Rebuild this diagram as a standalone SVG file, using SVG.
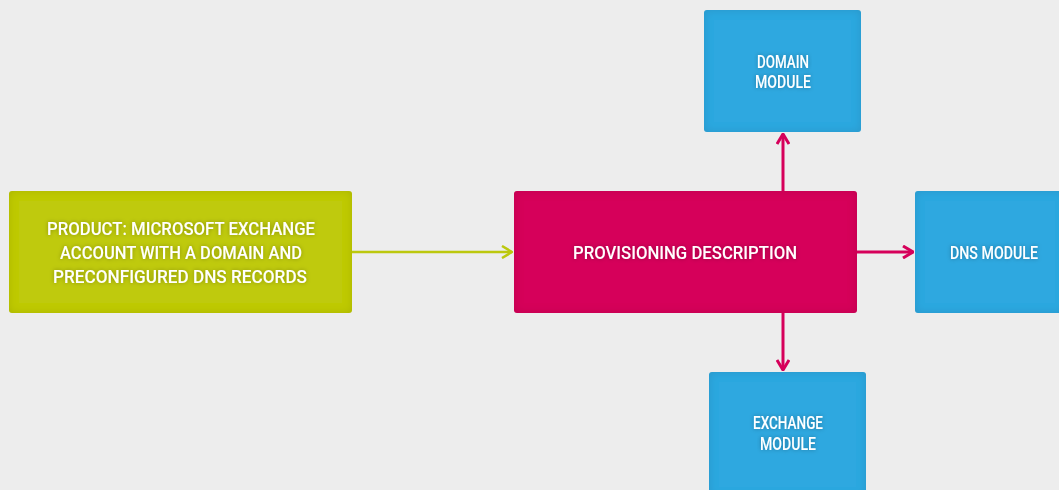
<svg xmlns="http://www.w3.org/2000/svg" width="1059" height="490" viewBox="0 0 1059 490">
<style>
.t{font-family:Roboto,"Liberation Sans",sans-serif;font-size:18px;font-weight:500;fill:#fff;text-anchor:middle;filter:url(#glow)}
.c-pink{stroke:#d6005a;stroke-width:3;fill:none}
.c-green{stroke:#bcc80e;stroke-width:2.5;fill:none}
</style>
<defs>
<filter id="glow" x="-5%" y="-20%" width="110%" height="140%">
<feGaussianBlur in="SourceAlpha" stdDeviation="2" result="b"/>
<feFlood flood-color="#000" flood-opacity="0.3"/>
<feComposite in2="b" operator="in" result="s"/>
<feMerge><feMergeNode in="s"/><feMergeNode in="SourceGraphic"/></feMerge>
</filter>
<filter id="inset" x="-10%" y="-10%" width="120%" height="120%">
<feFlood flood-color="#000" flood-opacity="0.22"/>
<feComposite in2="SourceAlpha" operator="out" result="o"/>
<feGaussianBlur in="o" stdDeviation="5" result="ob"/>
<feComposite in="ob" in2="SourceAlpha" operator="in" result="sh"/>
<feMerge><feMergeNode in="SourceGraphic"/><feMergeNode in="sh"/></feMerge>
</filter>
<marker id="ap" viewBox="0 0 12 14" refX="11" refY="7" markerWidth="12" markerHeight="14" markerUnits="userSpaceOnUse" orient="auto">
<path d="M1,1 L11,7 L1,13" fill="none" stroke="#d6005a" stroke-width="3"/>
</marker>
<marker id="ag" viewBox="0 0 12 14" refX="11" refY="7" markerWidth="12" markerHeight="14" markerUnits="userSpaceOnUse" orient="auto">
<path d="M1,1 L11,7 L1,13" fill="none" stroke="#bcc80e" stroke-width="2.5"/>
</marker>
</defs>
<rect width="1059" height="490" fill="#ededed"/>
<g id="connectors">
<line class="c-green" x1="352" y1="252" x2="512" y2="252" marker-end="url(#ag)"/>
<line class="c-pink" x1="783" y1="191" x2="783" y2="134" marker-end="url(#ap)"/>
<line class="c-pink" x1="857" y1="252" x2="913" y2="252" marker-end="url(#ap)"/>
<line class="c-pink" x1="783" y1="313" x2="783" y2="370" marker-end="url(#ap)"/>
</g>
<g id="product">
<rect x="9" y="191" width="343" height="122" rx="3" fill="#bfca0a" filter="url(#inset)"/>
<text class="t" x="181" y="235" textLength="268" lengthAdjust="spacingAndGlyphs">PRODUCT: MICROSOFT EXCHANGE</text>
<text class="t" x="181" y="259" textLength="242" lengthAdjust="spacingAndGlyphs">ACCOUNT WITH A DOMAIN AND</text>
<text class="t" x="180" y="283" textLength="254" lengthAdjust="spacingAndGlyphs">PRECONFIGURED DNS RECORDS</text>
</g>
<g id="provisioning">
<rect x="514" y="191" width="343" height="122" rx="3" fill="#d6005a" filter="url(#inset)"/>
<text class="t" x="685" y="259" textLength="224" lengthAdjust="spacingAndGlyphs">PROVISIONING DESCRIPTION</text>
</g>
<g id="domain">
<rect x="704" y="10" width="157" height="122" rx="3" fill="#2ea8e0" filter="url(#inset)"/>
<text class="t" x="783" y="68" textLength="52" lengthAdjust="spacingAndGlyphs">DOMAIN</text>
<text class="t" x="783" y="88" textLength="56" lengthAdjust="spacingAndGlyphs">MODULE</text>
</g>
<g id="dns">
<rect x="915" y="191" width="150" height="122" rx="3" fill="#2ea8e0" filter="url(#inset)"/>
<text class="t" x="994" y="259" textLength="88" lengthAdjust="spacingAndGlyphs">DNS MODULE</text>
</g>
<g id="exchange">
<rect x="709" y="372" width="157" height="125" rx="3" fill="#2ea8e0" filter="url(#inset)"/>
<text class="t" x="788" y="429" textLength="70" lengthAdjust="spacingAndGlyphs">EXCHANGE</text>
<text class="t" x="788" y="450" textLength="56" lengthAdjust="spacingAndGlyphs">MODULE</text>
</g>
</svg>
